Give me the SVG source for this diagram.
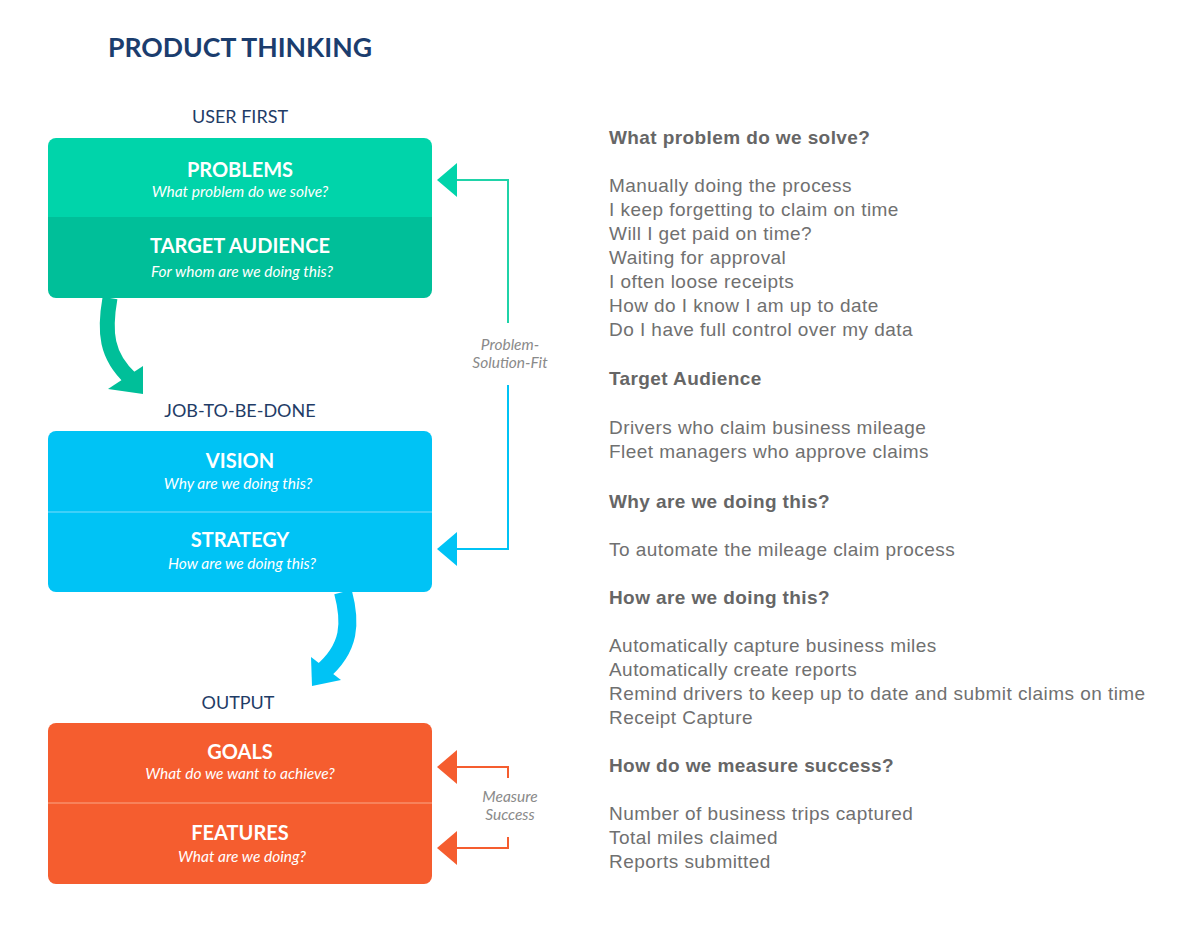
<svg xmlns="http://www.w3.org/2000/svg" width="1200" height="935" viewBox="0 0 1200 935">
  <style>
    .title { font-family: Lato, "Open Sans", sans-serif; font-weight: 700; font-size: 26px; fill: #1b3d6e; }
    .sec { font-family: Lato, "Open Sans", sans-serif; font-size: 18px; fill: #1f3c66; text-anchor: middle; }
    .h { font-family: Lato, "Open Sans", sans-serif; font-weight: 700; font-size: 20px; fill: #ffffff; text-anchor: middle; }
    .sub { font-family: Lato, "Open Sans", sans-serif; font-style: italic; font-size: 15.5px; fill: #ffffff; text-anchor: middle; }
    .lbl { font-family: Lato, "Open Sans", sans-serif; font-style: italic; font-size: 15.5px; fill: #8a8a8a; text-anchor: middle; }
    .rt { font-family: "Liberation Sans", Arial, sans-serif; font-size: 19px; letter-spacing: 0.45px; fill: #707070; }
    .rb { font-family: "Liberation Sans", Arial, sans-serif; font-size: 19px; letter-spacing: 0.4px; font-weight: 700; fill: #666666; }
  </style>

  <rect x="0" y="0" width="1200" height="935" fill="#ffffff"/>

  <text class="title" x="108" y="57" textLength="264" lengthAdjust="spacingAndGlyphs">PRODUCT THINKING</text>

  <g id="label-user-first"><text class="sec" x="240" y="123">USER FIRST</text></g>
  <g id="label-jtbd"><text class="sec" x="240" y="417">JOB-TO-BE-DONE</text></g>
  <g id="label-output"><text class="sec" x="238" y="709">OUTPUT</text></g>

  <!-- Box 1: user first -->
  <g id="node-problems">
    <path d="M56,138 H424 A8,8 0 0 1 432,146 V217 H48 V146 A8,8 0 0 1 56,138 Z" fill="#00d4aa"/>
    <text class="h" x="240" y="177">PROBLEMS</text>
    <text class="sub" x="240" y="197">What problem do we solve?</text>
  </g>
  <g id="node-target-audience">
    <path d="M48,217 H432 V290 A8,8 0 0 1 424,298 H56 A8,8 0 0 1 48,290 Z" fill="#00bf99"/>
    <text class="h" x="240" y="253">TARGET AUDIENCE</text>
    <text class="sub" x="242" y="277">For whom are we doing this?</text>
  </g>

  <!-- Box 2: job to be done -->
  <g id="node-vision">
    <path d="M56,431 H424 A8,8 0 0 1 432,439 V512 H48 V439 A8,8 0 0 1 56,431 Z" fill="#00c3f5"/>
    <text class="h" x="240" y="468">VISION</text>
    <text class="sub" x="238" y="489">Why are we doing this?</text>
  </g>
  <g id="node-strategy">
    <path d="M48,512 H432 V584 A8,8 0 0 1 424,592 H56 A8,8 0 0 1 48,584 Z" fill="#00c3f5"/>
    <line x1="48" y1="512" x2="432" y2="512" stroke="#7fdcfb" stroke-width="1"/>
    <text class="h" x="240" y="547">STRATEGY</text>
    <text class="sub" x="242" y="569">How are we doing this?</text>
  </g>

  <!-- Box 3: output -->
  <g id="node-goals">
    <path d="M56,723 H424 A8,8 0 0 1 432,731 V803 H48 V731 A8,8 0 0 1 56,723 Z" fill="#f55d2f"/>
    <text class="h" x="240" y="759">GOALS</text>
    <text class="sub" x="240" y="779">What do we want to achieve?</text>
  </g>
  <g id="node-features">
    <path d="M48,803 H432 V876 A8,8 0 0 1 424,884 H56 A8,8 0 0 1 48,876 Z" fill="#f55d2f"/>
    <line x1="48" y1="803" x2="432" y2="803" stroke="#f9a888" stroke-width="1"/>
    <text class="h" x="240" y="840">FEATURES</text>
    <text class="sub" x="242" y="862">What are we doing?</text>
  </g>

  <!-- Connectors -->
  <g id="connectors">
    <!-- green curved flow arrow -->
    <path d="M110,298 C104,332 106,356 131,379" fill="none" stroke="#00bf99" stroke-width="15"/>
    <polygon points="143,366 108,389 143,394" fill="#00bf99"/>

    <!-- blue curved flow arrow -->
    <path d="M343,592 C351,622 351,648 321,673" fill="none" stroke="#00c3f5" stroke-width="18"/>
    <polygon points="311,657 312,686 341,680" fill="#00c3f5"/>

    <!-- Problem-Solution-Fit -->
    <polyline points="508,323 508,180 456,180" fill="none" stroke="#1fd3a8" stroke-width="2"/>
    <polygon points="437,180 457,163 457,197" fill="#00d4aa"/>
    <polyline points="508,385 508,549 456,549" fill="none" stroke="#00c3f5" stroke-width="2"/>
    <polygon points="437,549 457,532 457,566" fill="#00c3f5"/>
    <text class="lbl" x="510" y="350">Problem-</text>
    <text class="lbl" x="510" y="368">Solution-Fit</text>

    <!-- Measure Success -->
    <polyline points="508,778 508,767 456,767" fill="none" stroke="#f55d2f" stroke-width="2"/>
    <polygon points="437,767 457,750 457,784" fill="#f55d2f"/>
    <polyline points="508,837 508,848 456,848" fill="none" stroke="#f55d2f" stroke-width="2"/>
    <polygon points="437,848 457,831 457,865" fill="#f55d2f"/>
    <text class="lbl" x="510" y="802">Measure</text>
    <text class="lbl" x="510" y="820">Success</text>
  </g>

  <!-- Right-hand text -->
  <g id="details">
    <text class="rb" x="609" y="144">What problem do we solve?</text>
    <text class="rt" x="609" y="192">Manually doing the process</text>
    <text class="rt" x="609" y="216">I keep forgetting to claim on time</text>
    <text class="rt" x="609" y="240">Will I get paid on time?</text>
    <text class="rt" x="609" y="264">Waiting for approval</text>
    <text class="rt" x="609" y="288">I often loose receipts</text>
    <text class="rt" x="609" y="312">How do I know I am up to date</text>
    <text class="rt" x="609" y="336">Do I have full control over my data</text>

    <text class="rb" x="609" y="385">Target Audience</text>
    <text class="rt" x="609" y="434">Drivers who claim business mileage</text>
    <text class="rt" x="609" y="458">Fleet managers who approve claims</text>

    <text class="rb" x="609" y="508">Why are we doing this?</text>
    <text class="rt" x="609" y="556">To automate the mileage claim process</text>

    <text class="rb" x="609" y="604">How are we doing this?</text>
    <text class="rt" x="609" y="652">Automatically capture business miles</text>
    <text class="rt" x="609" y="676">Automatically create reports</text>
    <text class="rt" x="609" y="700">Remind drivers to keep up to date and submit claims on time</text>
    <text class="rt" x="609" y="724">Receipt Capture</text>

    <text class="rb" x="609" y="772">How do we measure success?</text>
    <text class="rt" x="609" y="820">Number of business trips captured</text>
    <text class="rt" x="609" y="844">Total miles claimed</text>
    <text class="rt" x="609" y="868">Reports submitted</text>
  </g>
</svg>
